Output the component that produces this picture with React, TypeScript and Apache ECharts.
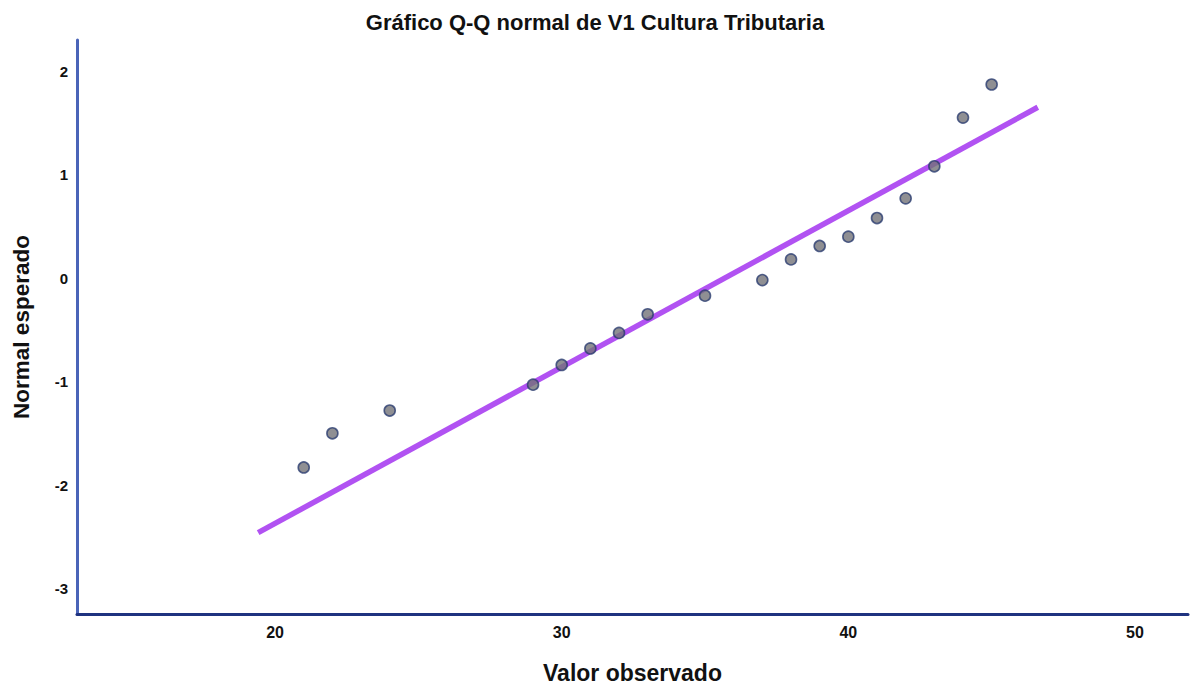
import React, { useEffect, useRef } from "react";
import * as echarts from "echarts";

const observedValues = [21, 22, 24, 29, 30, 31, 32, 33, 35, 37, 38, 39, 40, 41, 42, 43, 44, 45];
const expectedNormal = [-1.83, -1.5, -1.28, -1.03, -0.84, -0.68, -0.53, -0.35, -0.17, -0.02, 0.18, 0.31, 0.4, 0.58, 0.77, 1.08, 1.55, 1.87];
const fitLineX = [19.41, 46.61];
const fitLineY = [-2.46, 1.65];
const xTicks = [20, 30, 40, 50];
const yTicks = [-3, -2, -1, 0, 1, 2];

export default function App() {
  const ref = useRef<HTMLDivElement>(null);
  useEffect(() => {
    document.body.style.margin = "0";
    const chart = echarts.init(ref.current!, null, { renderer: "svg" });
    const font = "'Liberation Sans', Arial, sans-serif";
    chart.setOption({
      animation: false,
      backgroundColor: "#ffffff",
      title: {
        text: "Gráfico Q-Q normal de V1 Cultura Tributaria",
        left: "center",
        top: 6,
        textStyle: { fontFamily: font, fontSize: 22, fontWeight: "bold", color: "#111" },
      },
      grid: { left: 77, right: 2, top: 40, bottom: 73, outerBoundsMode: "none", containLabel: false },
      xAxis: {
        type: "value",
        min: 13.09,
        max: 51.85,
        name: "Valor observado",
        nameLocation: "middle",
        nameGap: 47,
        nameTextStyle: { fontFamily: font, fontSize: 23, fontWeight: "bold", color: "#111" },
        axisLine: { show: true, onZero: false, lineStyle: { color: "#1f3380", width: 3 } },
        axisTick: { show: false },
        splitLine: { show: false },
        axisLabel: {
          customValues: xTicks,
          fontFamily: font,
          fontSize: 16,
          fontWeight: "bold",
          color: "#111",
          margin: 10,
        },
      },
      yAxis: {
        type: "value",
        min: -3.246,
        max: 2.3,
        name: "Normal esperado",
        nameLocation: "middle",
        nameGap: 44,
        nameTextStyle: { fontFamily: font, fontSize: 22.5, fontWeight: "bold", color: "#111" },
        axisLine: { show: true, onZero: false, lineStyle: { color: "#4a64b8", width: 3 } },
        axisTick: { show: false },
        splitLine: { show: false },
        axisLabel: {
          customValues: yTicks,
          fontFamily: font,
          fontSize: 15,
          fontWeight: "bold",
          color: "#111",
          margin: 9,
        },
      },
      series: [
        {
          type: "line",
          data: fitLineX.map((x, i) => [x, fitLineY[i]]),
          showSymbol: false,
          symbol: "none",
          lineStyle: { color: "#b152f2", width: 5.5 },
          z: 2,
        },
        {
          type: "scatter",
          data: observedValues.map((x, i) => [x, expectedNormal[i]]),
          symbol: "circle",
          symbolSize: 11,
          itemStyle: { color: "#737378", borderColor: "#2c3d70", borderWidth: 1.6 },
          z: 3,
        },
      ],
    });
    return () => chart.dispose();
  }, []);
  return <div ref={ref} style={{ width: 1190, height: 687 }} />;
}
